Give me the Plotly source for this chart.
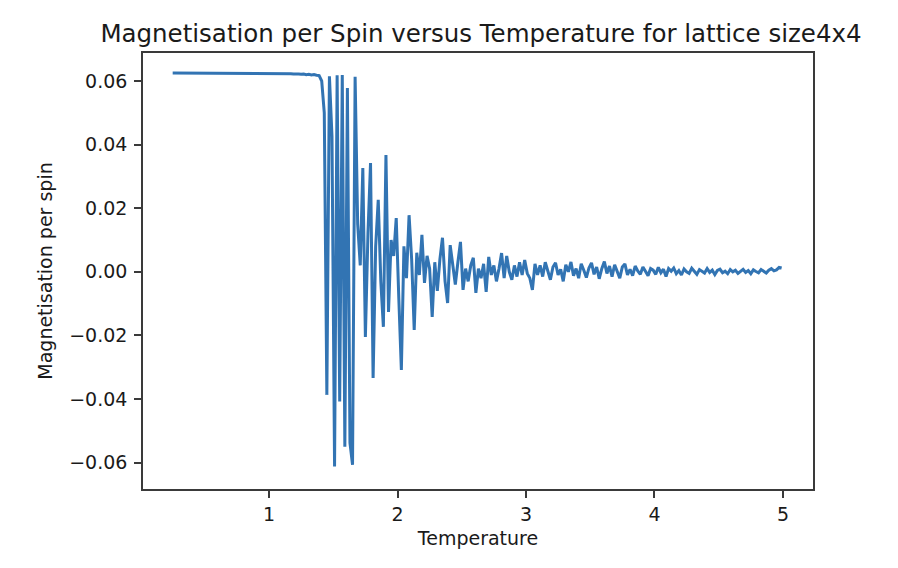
import plotly.graph_objects as go

# temperature sweep: start and step of the simulation grid
T_START = 0.25
T_STEP = 0.02

# magnetisation per spin, one value per temperature step
mag_low = [
    0.0625, 0.0625, 0.0625, 0.0625, 0.0625, 0.0625, 0.0625, 0.0625, 0.0625, 0.0625,
    0.0625, 0.0625, 0.0625, 0.0625, 0.0625, 0.0625, 0.0625, 0.0625, 0.0625, 0.0625,
    0.0625, 0.0625, 0.0625, 0.0625, 0.0625, 0.0625, 0.0625, 0.0625, 0.0625, 0.0625,
    0.0625, 0.0625, 0.0625, 0.0625, 0.0625, 0.0625, 0.0625, 0.0624, 0.0625, 0.0624,
    0.0624, 0.0624, 0.0624, 0.0623, 0.0624, 0.0623, 0.0623, 0.0622, 0.0623, 0.0622,
    0.0621, 0.0622, 0.0620, 0.0621, 0.0619, 0.0620, 0.0618, 0.0617,
]

mag_critical = [
    0.0600, 0.0500, -0.0387, 0.0615, 0.0425, -0.0612, 0.0618, -0.0408, 0.0619, -0.0550,
    0.0578, -0.0538, -0.0607, 0.0613, 0.0150, 0.0020, 0.0326, -0.0205, 0.0120, 0.0342,
    -0.0334, 0.0080, 0.0226, -0.0030, -0.0173, 0.0367, -0.0126, 0.0100, 0.0050, 0.0169,
    -0.0082, -0.0309, 0.0080, -0.0020, 0.0178, 0.0040, -0.0183, 0.0060, -0.0010, 0.0116,
    -0.0035, 0.0050, 0.0010, -0.0142, 0.0030, -0.0060, 0.0040, 0.0107, -0.0030, -0.0098,
    0.0084, 0.0020, -0.0040, 0.0030, 0.0094, -0.0057, 0.0010, -0.0030, 0.0020, 0.0044,
    -0.0066, 0.0010, -0.0020, 0.0025, -0.0063, 0.0047, -0.0010, 0.0020, -0.0030, 0.0010,
    0.0059, -0.0020, 0.0050, 0.0000, -0.0025, 0.0020, -0.0015, 0.0030, -0.0010, 0.0037,
    -0.0005, -0.0020, -0.0057, 0.0025, -0.0010,
]

mag_high = [
    0.0020, -0.0015, 0.0030, 0.0005, -0.0025, 0.0015, 0.0028, -0.0010, 0.0008, -0.0030,
    0.0022, 0.0000, 0.0031, -0.0012, 0.0010, -0.0020, 0.0025, 0.0005, -0.0018, 0.0012,
    0.0028, -0.0008, 0.0015, -0.0022, 0.0010, 0.0032, -0.0005, 0.0018, -0.0015, 0.0022,
    0.0002, -0.0020, 0.0015, 0.0025, -0.0010, 0.0008, -0.0012, 0.0018, 0.0003, -0.0008,
    0.0015, 0.0000, -0.0012, 0.0010, 0.0005, -0.0008, 0.0014, -0.0003, 0.0008, -0.0015,
    0.0010, 0.0002, 0.0012, -0.0006, 0.0004, -0.0010, 0.0009, 0.0000, -0.0005, 0.0011,
    0.0003, -0.0008, 0.0007, 0.0001, -0.0004, 0.0010, -0.0002, 0.0005, -0.0009, 0.0004,
    0.0008, -0.0003, 0.0002, -0.0006, 0.0007, 0.0000, 0.0005, -0.0005, 0.0003, 0.0008,
    -0.0002, 0.0004, -0.0006, 0.0006, 0.0001, -0.0003, 0.0007, 0.0002, -0.0004, 0.0005,
    0.0010, 0.0003, 0.0006, 0.0014, 0.0012,
]

mag = mag_low + mag_critical + mag_high

x_ticks = [1, 2, 3, 4, 5]
x_tick_labels = ["1", "2", "3", "4", "5"]
y_ticks = [0.06, 0.04, 0.02, 0.0, -0.02, -0.04, -0.06]
y_tick_labels = ["0.06", "0.04", "0.02", "0.00", "\u22120.02", "\u22120.04", "\u22120.06"]

tick_font = dict(family="DejaVu Sans", size=19, color="#1a1a1a")
label_font = dict(family="DejaVu Sans", size=19, color="#1a1a1a")

fig = go.Figure(go.Scatter(y=mag, x0=T_START, dx=T_STEP, mode="lines",
                           line=dict(color="#3274b3", width=3)))

axis_style = dict(showline=True, mirror=True, linecolor="#3a3a3a", linewidth=1.6,
                  ticks="outside", ticklen=7, tickwidth=1.6, tickcolor="#3a3a3a",
                  showgrid=False, zeroline=False, tickfont=tick_font)

# page body has an 8px margin, so the figure is a bit smaller than the window
fig.update_layout(
    width=890, height=560,
    margin=dict(l=135, r=85, t=45, b=79),
    paper_bgcolor="white", plot_bgcolor="white",
    showlegend=False,
    title=dict(text="Magnetisation per Spin versus Temperature for lattice size4x4",
               x=0.5045, xref="paper", xanchor="center", y=1, yref="paper", yanchor="bottom",
               pad=dict(b=11), font=dict(family="DejaVu Sans", size=24.5, color="#1a1a1a")),
    xaxis=dict(axis_style, range=[0.019, 5.234], tickvals=x_ticks, ticktext=x_tick_labels,
               title=dict(text="Temperature", standoff=8, font=label_font)),
    yaxis=dict(axis_style, range=[-0.0683, 0.0688], tickvals=y_ticks, ticktext=y_tick_labels,
               ticklabelstandoff=3,
               title=dict(text="Magnetisation per spin", standoff=12, font=label_font)),
)

fig.write_html("out.html")
